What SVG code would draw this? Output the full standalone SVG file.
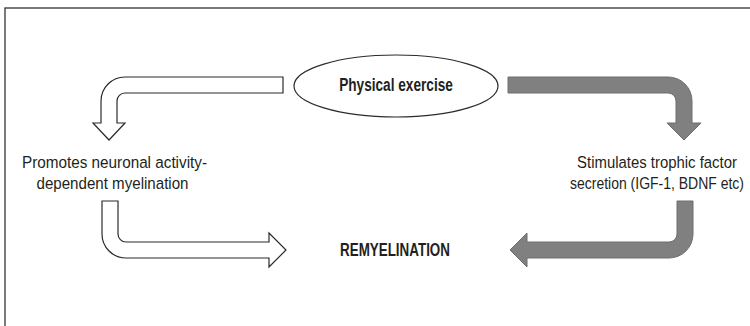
<svg xmlns="http://www.w3.org/2000/svg" width="750" height="326" viewBox="0 0 750 326">
<style>
.t{font-family:"Liberation Sans",Arial,sans-serif;fill:#231f20;text-anchor:middle}
.n{font-size:17px}
.b{font-size:19px;font-weight:bold}
.w{fill:#ffffff;stroke:#2b2b2b;stroke-width:1.2;stroke-linejoin:miter}
.g{fill:#808080;stroke:#6e6e6e;stroke-width:1}
</style>
<rect x="5" y="8" width="750" height="340" fill="#ffffff" stroke="#333333" stroke-width="1.3"/>
<g id="connectors">
<path class="w" d="M283,77 L125,77 A24,24 0 0 0 101,101 L101,123 L93,123 L109,140 L125,123 L117,123 L117,101 A8,8 0 0 1 125,93 L283,93 Z"/>
<path class="w" d="M102,201 L118,201 L118,234 A8,8 0 0 0 126,242 L269,242 L269,233 L286,250 L269,267 L269,258 L126,258 A24,24 0 0 1 102,234 Z"/>
<path class="g" d="M508,77 L668,77 A24,24 0 0 1 692,101 L692,123 L701,123 L684,140 L667,123 L676,123 L676,101 A8,8 0 0 0 668,93 L508,93 Z"/>
<path class="g" d="M677,201 L693,201 L693,234 A24,24 0 0 1 669,258 L527,258 L527,267 L510,250 L527,233 L527,242 L669,242 A8,8 0 0 0 677,234 Z"/>
</g>
<g id="exercise">
<ellipse cx="396" cy="86" rx="102" ry="31" fill="#ffffff" stroke="#2b2b2b" stroke-width="1.2"/>
<text class="t b" transform="translate(396,91) scale(0.72,1)" x="0" y="0" textLength="158" lengthAdjust="spacingAndGlyphs">Physical exercise</text>
</g>
<g id="neuronal">
<text class="t n" transform="translate(114.5,168) scale(0.898,1)" x="0" y="0" textLength="206" lengthAdjust="spacingAndGlyphs">Promotes neuronal activity-</text>
<text class="t n" transform="translate(112.5,189) scale(0.889,1)" x="0" y="0" textLength="171" lengthAdjust="spacingAndGlyphs">dependent myelination</text>
</g>
<g id="trophic">
<text class="t n" transform="translate(657,168) scale(0.878,1)" x="0" y="0" textLength="182" lengthAdjust="spacingAndGlyphs">Stimulates trophic factor</text>
<text class="t n" transform="translate(657,189) scale(0.822,1)" x="0" y="0" textLength="211.7" lengthAdjust="spacingAndGlyphs">secretion (IGF-1, BDNF etc)</text>
</g>
<g id="remyelination">
<text class="t b" transform="translate(395,256) scale(0.70,1)" x="0" y="0" textLength="157" lengthAdjust="spacingAndGlyphs">REMYELINATION</text>
</g>
</svg>
